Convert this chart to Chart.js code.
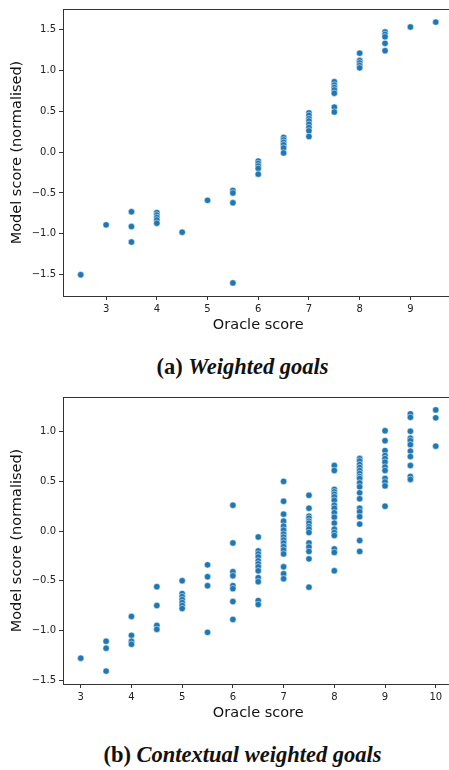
<!DOCTYPE html>
<html>
    <head>
        <title>Oracle vs model score</title>
        <script src="https://cdn.jsdelivr.net/npm/chart.js@4.4.0/dist/chart.umd.min.js"></script>
        <style>
            html, body { margin: 0; background: #fff; overflow: hidden; }
            body { width: 449px; height: 770px; position: relative; }
            .plot { position: absolute; left: 0; width: 458px; height: 340px; }
            .caption { position: absolute; left: 0; width: 485px; text-align: center; font-family: "Liberation Serif", "DejaVu Serif", serif; font-weight: bold; font-size: 22.5px; line-height: 24px; color: #111; }
        </style>
    </head>
    <body>
        <div class="plot" style="top: 0"><canvas id="weightedChart"></canvas></div>
        <div class="caption" style="top: 355px">(a) <i>Weighted goals</i></div>
        <div class="plot" style="top: 388px"><canvas id="contextualChart"></canvas></div>
        <div class="caption" style="top: 743px">(b) <i>Contextual weighted goals</i></div>
        <script>
            // (a) weighted goals: oracle scores and the model scores at each one
            const weightedOracle = [2.5, 3, 3.5, 4, 4.5, 5, 5.5, 6, 6.5, 7, 7.5, 8, 8.5, 9, 9.5];
            const weightedModel = [
                [-1.50],
                [-0.89],
                [-0.73, -0.91, -1.10],
                [-0.74, -0.77, -0.80, -0.83, -0.87],
                [-0.98],
                [-0.59],
                [-0.47, -0.50, -0.62, -1.60],
                [-0.11, -0.14, -0.17, -0.20, -0.27],
                [0.18, 0.15, 0.12, 0.09, 0.05, -0.01],
                [0.48, 0.45, 0.41, 0.38, 0.34, 0.30, 0.26, 0.19],
                [0.86, 0.82, 0.79, 0.76, 0.72, 0.55, 0.49],
                [1.21, 1.12, 1.09, 1.06, 1.03],
                [1.47, 1.44, 1.41, 1.33, 1.24],
                [1.53],
                [1.59],
            ];
            const weightedXTicks = [3, 4, 5, 6, 7, 8, 9];
            const weightedYTicks = [-1.5, -1.0, -0.5, 0.0, 0.5, 1.0, 1.5];

            // (b) contextual weighted goals
            const contextualOracle = [3, 3.5, 4, 4.5, 5, 5.5, 6, 6.5, 7, 7.5, 8, 8.5, 9, 9.5, 10];
            const contextualModel = [
                [-1.28],
                [-1.11, -1.18, -1.41],
                [-0.86, -1.05, -1.11, -1.14],
                [-0.56, -0.75, -0.95, -0.99],
                [-0.50, -0.63, -0.66, -0.69, -0.72, -0.75, -0.78],
                [-0.34, -0.46, -0.55, -1.02],
                [0.26, -0.12, -0.41, -0.45, -0.55, -0.58, -0.71, -0.89],
                [-0.06, -0.20, -0.23, -0.26, -0.30, -0.33, -0.36, -0.40, -0.47, -0.51, -0.70, -0.74],
                [0.50, 0.30, 0.17, 0.10, 0.05, 0.01, -0.03, -0.06, -0.09, -0.12, -0.155, -0.19, -0.23, -0.36, -0.43, -0.48],
                [0.36, 0.23, 0.15, 0.13, 0.10, 0.08, 0.045, 0.02, -0.015, -0.12, -0.16, -0.205, -0.28, -0.565],
                [0.66, 0.61, 0.42, 0.395, 0.37, 0.345, 0.31, 0.26, 0.23, 0.185, 0.14, 0.08, 0.02, -0.015, -0.045, -0.18, -0.215, -0.40],
                [0.73, 0.705, 0.67, 0.64, 0.61, 0.58, 0.55, 0.53, 0.485, 0.445, 0.385, 0.325, 0.23, 0.195, 0.145, 0.07, -0.095, -0.205],
                [1.01, 0.91, 0.81, 0.76, 0.73, 0.695, 0.645, 0.61, 0.53, 0.495, 0.455, 0.25],
                [1.18, 1.145, 1.005, 0.935, 0.91, 0.87, 0.805, 0.75, 0.66, 0.55, 0.52],
                [1.22, 1.14, 0.855],
            ];
            const contextualXTicks = [3, 4, 5, 6, 7, 8, 9, 10];
            const contextualYTicks = [-1.5, -1.0, -0.5, 0.0, 0.5, 1.0];

            const toPoints = (oracle, model) => {
                const points = [];
                oracle.forEach((x, i) => model[i].forEach(y => points.push({ x: x, y: y })));
                return points;
            };

            const formatY = (v) => (v < 0 ? "\u2212" : "") + Math.abs(v).toFixed(1);

            // matplotlib-like box around the axes (right side runs off the page like the original)
            const boxPlugin = {
                id: "box",
                afterDraw: (chart) => {
                    const { ctx, chartArea: a } = chart;
                    ctx.save();
                    ctx.strokeStyle = "#333";
                    ctx.lineWidth = 1;
                    ctx.strokeRect(Math.round(a.left) + 0.5, Math.round(a.top) + 0.5, Math.round(a.right - a.left) - 1, Math.round(a.bottom - a.top));
                    ctx.restore();
                }
            };

            const axisStyle = {
                grid: { display: true, drawOnChartArea: false, drawTicks: true, tickLength: 4, color: "#333" },
                border: { display: true, color: "#333" },
            };
            const tickFont = { family: "DejaVu Sans", size: 10 };
            const titleFont = { family: "DejaVu Sans", size: 14.5 };

            const makeChart = (id, oracle, model, xTicks, yTicks, xRange, yRange) => {
                return new Chart(document.getElementById(id), {
                    type: "scatter",
                    data: {
                        datasets: [{
                            data: toPoints(oracle, model),
                            backgroundColor: "#1f77b4",
                            borderColor: "#ffffff",
                            borderWidth: 0.5,
                            pointRadius: 3.2,
                        }]
                    },
                    options: {
                        responsive: true,
                        maintainAspectRatio: false,
                        animation: false,
                        layout: { padding: { top: 8, right: 0, left: 0, bottom: 0 } },
                        plugins: { legend: { display: false }, tooltip: { enabled: false } },
                        scales: {
                            x: {
                                ...axisStyle,
                                type: "linear",
                                min: xRange[0],
                                max: xRange[1],
                                afterBuildTicks: (scale) => { scale.ticks = xTicks.map(v => ({ value: v })); },
                                afterFit: (scale) => {
                                    scale.height = 44;
                                    scale.paddingLeft = 0;
                                    scale.paddingRight = 0;
                                },
                                ticks: { font: tickFont, color: "#222", padding: 3, maxRotation: 0, callback: (v) => String(v) },
                                title: { display: true, text: "Oracle score", font: titleFont, color: "#111", padding: { top: 0, bottom: 6 } },
                            },
                            y: {
                                ...axisStyle,
                                type: "linear",
                                min: yRange[0],
                                max: yRange[1],
                                afterBuildTicks: (scale) => { scale.ticks = yTicks.map(v => ({ value: v })); },
                                afterFit: (scale) => { scale.width = 63; },
                                ticks: { font: tickFont, color: "#222", padding: 3, callback: formatY },
                                title: { display: true, text: "Model score (normalised)", font: titleFont, color: "#111", padding: { top: 9, bottom: 0 } },
                            },
                        },
                    },
                    plugins: [boxPlugin],
                });
            };

            makeChart("weightedChart", weightedOracle, weightedModel, weightedXTicks, weightedYTicks, [2.15, 9.85], [-1.76, 1.75]);
            makeChart("contextualChart", contextualOracle, contextualModel, contextualXTicks, contextualYTicks, [2.65, 10.35], [-1.54, 1.35]);
        </script>
    </body>
</html>
